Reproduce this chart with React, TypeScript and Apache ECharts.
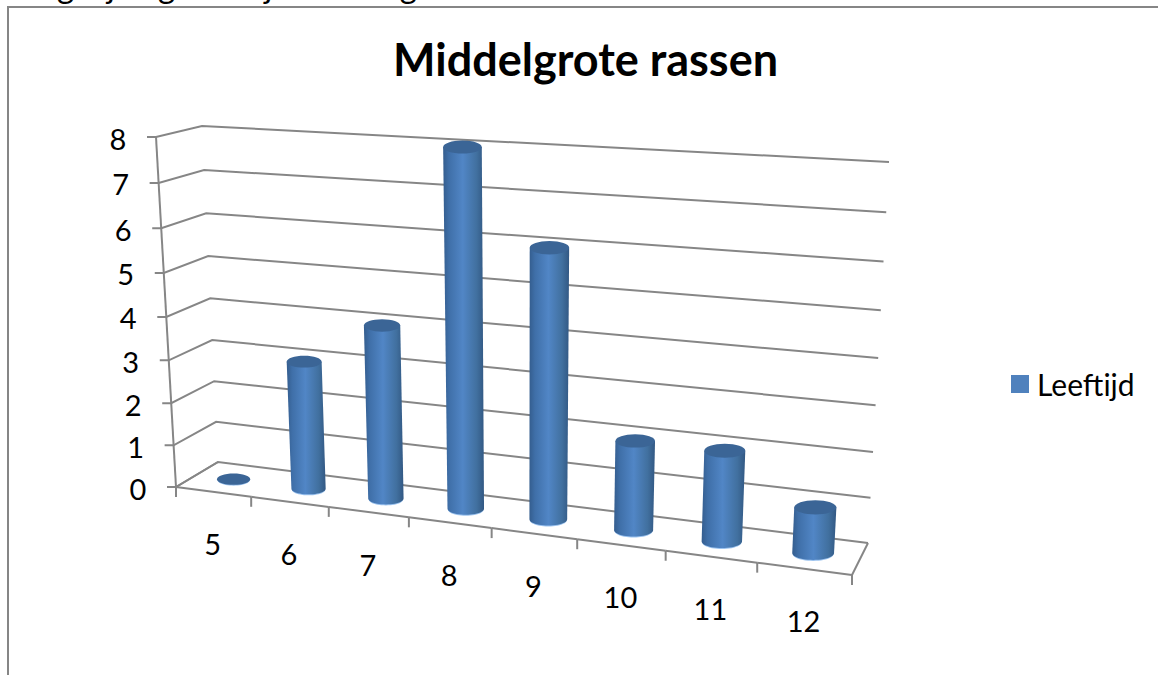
import React, { useEffect, useRef } from "react";
import * as echarts from "echarts";

const TITLE = "Middelgrote rassen";
const CUT_OFF_TEXT = "Vergelijking Leeftijd Middelgrote rassen";
const SERIES_NAME = "Leeftijd";
const categories = ["5", "6", "7", "8", "9", "10", "11", "12"];
const values = [0, 3, 4, 8, 6, 2, 2, 1];
const yTicks = [0, 1, 2, 3, 4, 5, 6, 7, 8];

const FONT = "Lato, 'Open Sans', sans-serif";
const GRID = { left: 176, top: 137, width: 676, height: 350 };
const LINE = "#868686";

type Pt = [number, number];
// Projective map of the unit square: corners p00 (u0,v0), p10 (u1,v0), p11 (u1,v1), p01 (u0,v1)
function homography(p00: Pt, p10: Pt, p11: Pt, p01: Pt) {
  const dx1 = p10[0] - p11[0], dx2 = p01[0] - p11[0], sx = p00[0] - p10[0] + p11[0] - p01[0];
  const dy1 = p10[1] - p11[1], dy2 = p01[1] - p11[1], sy = p00[1] - p10[1] + p11[1] - p01[1];
  const det = dx1 * dy2 - dx2 * dy1;
  const g = (sx * dy2 - dx2 * sy) / det;
  const h = (dx1 * sy - sx * dy1) / det;
  const a = p10[0] - p00[0] + g * p10[0], b = p01[0] - p00[0] + h * p01[0], c = p00[0];
  const d = p10[1] - p00[1] + g * p10[1], e = p01[1] - p00[1] + h * p01[1], f = p00[1];
  return (u: number, v: number): Pt => {
    const w = g * u + h * v + 1;
    return [(a * u + b * v + c) / w, (d * u + e * v + f) / w];
  };
}
const front = homography([176, 487], [852, 575], [874, 178], [156, 137]);
const back = homography([218, 462], [868, 543], [889, 162], [202, 126]);
const plane = (u: number, v: number, depth: number): Pt => {
  const b = back(u, v), f = front(u, v);
  return [b[0] + (f[0] - b[0]) * depth, b[1] + (f[1] - b[1]) * depth];
};

const toUnit = (params: any, p: number[]): Pt => {
  const c = params.coordSys;
  return [(p[0] - c.x) / c.width, (c.y + c.height - p[1]) / c.height];
};

const lineEl = (a: Pt, b: Pt, width = 2) => ({
  type: "line",
  shape: { x1: a[0], y1: a[1], x2: b[0], y2: b[1] },
  style: { stroke: LINE, lineWidth: width },
});

const textEl = (text: string, p: Pt) => ({
  type: "text",
  style: { text, x: p[0], y: p[1], fill: "#000", font: `29px ${FONT}`, align: "center", verticalAlign: "middle" },
});

function renderWall(params: any, api: any) {
  const [, v] = toUnit(params, api.coord([0, api.value(0)]));
  const f = front(0, v), bl = back(0, v), br = back(1, v);
  const children: any[] = [
    { type: "polyline", shape: { points: [[f[0] - 9, f[1]], f, bl, br] }, style: { stroke: LINE, lineWidth: 2, fill: "none" } },
    textEl(String(api.value(0)), [f[0] - 38, f[1] + 1]),
  ];
  if (v > 0) {
    const prev = toUnit(params, api.coord([0, api.value(0) - 1]))[1];
    children.push(lineEl(front(0, prev), f));
  }
  return { type: "group", children };
}

function renderFloor(params: any, api: any) {
  const idx = api.value(0);
  const band = api.size([1, 0])[0];
  const [u] = toUnit(params, api.coord([idx, 0]));
  const halfBand = band / params.coordSys.width / 2;
  const right = front(u + halfBand, 0);
  const left = front(u - halfBand, 0);
  const mid = front(u, 0);
  const children: any[] = [
    lineEl(left, right),
    lineEl(right, [right[0], right[1] + 10]),
    textEl(categories[idx], [(left[0] + right[0]) / 2 - 1, mid[1] + 52]),
  ];
  if (idx === 0) {
    children.push(lineEl(left, [left[0], left[1] + 10]));
    children.push(lineEl(front(0, 0), back(0, 0)));
    children.push(lineEl(front(1, 0), back(1, 0)));
  }
  return { type: "group", children };
}

const BODY = new echarts.graphic.LinearGradient(0, 0, 1, 0, [
  { offset: 0, color: "#345d8e" },
  { offset: 0.14, color: "#3f6fa8" },
  { offset: 0.48, color: "#5186c6" },
  { offset: 0.82, color: "#41709f" },
  { offset: 1, color: "#325883" },
]);

function halfEllipse(cx: number, cy: number, rx: number, ry: number): Pt[] {
  const pts: Pt[] = [];
  for (let i = 0; i <= 24; i++) {
    const a = (i / 24) * Math.PI;
    pts.push([cx + rx * Math.cos(a), cy + ry * Math.sin(a)]);
  }
  return pts;
}

function renderBar(params: any, api: any) {
  const band = api.size([1, 0])[0] / params.coordSys.width;
  const [u, v] = toUnit(params, api.coord([api.value(0), api.value(1)]));
  const base = plane(u, 0, 0.5);
  const top = plane(u, v, 0.5);
  const slot = (vv: number) => plane(u + band / 2, vv, 0.5)[0] - plane(u - band / 2, vv, 0.5)[0];
  const rb = slot(0) * 0.225;
  const rt = slot(v) * 0.225;
  const ryb = rb * 0.33;
  const ryt = rt * 0.34;
  const bottom = halfEllipse(base[0], base[1], rb, ryb);
  const rim = halfEllipse(base[0], base[1] + 1, rb - 0.5, ryb);
  const body: Pt[] = [[top[0] + rt, top[1]], ...bottom, [top[0] - rt, top[1]]];
  const children: any[] = [
    { type: "polygon", shape: { points: rim }, style: { fill: "#9cc3ef" } },
  ];
  if (v > 0) children.push({ type: "polygon", shape: { points: body }, style: { fill: BODY } });
  children.push({
    type: "ellipse",
    shape: { cx: top[0], cy: top[1], rx: rt, ry: ryt },
    style: { fill: "#3b6596" },
  });
  return { type: "group", children };
}

export default function App() {
  const ref = useRef<HTMLDivElement>(null);
  useEffect(() => {
    const chart = echarts.init(ref.current!, undefined, { renderer: "svg" });
    chart.setOption({
      animation: false,
      backgroundColor: "#fff",
      title: {
        text: TITLE,
        left: 393,
        top: 36,
        padding: 0,
        textStyle: { fontFamily: FONT, fontSize: 45, fontWeight: "bold", color: "#000" },
      },
      legend: {
        data: [{ name: SERIES_NAME, icon: "rect" }],
        left: 1011,
        top: 369,
        padding: 0,
        itemWidth: 18,
        itemHeight: 18,
        itemGap: 0,
        textStyle: { fontFamily: FONT, fontSize: 30, color: "#000", padding: [0, 0, 0, 3] },
      },
      grid: GRID,
      xAxis: { type: "category", data: categories, show: false },
      yAxis: { type: "value", min: 0, max: 8, interval: 1, show: false },
      graphic: [
        {
          type: "text",
          style: { text: CUT_OFF_TEXT, x: 8, y: 1, fill: "#000", font: `33px ${FONT}`, verticalAlign: "bottom" },
        },
        { type: "line", shape: { x1: 8, y1: 7, x2: 1158, y2: 7 }, style: { stroke: LINE, lineWidth: 2 } },
        { type: "line", shape: { x1: 8, y1: 6, x2: 8, y2: 675 }, style: { stroke: LINE, lineWidth: 2 } },
      ],
      series: [
        { type: "custom", name: "wall", coordinateSystem: "cartesian2d", clip: false, silent: true, encode: { y: 0 }, data: yTicks.map((v) => [v]), renderItem: renderWall },
        { type: "custom", name: "floor", coordinateSystem: "cartesian2d", clip: false, silent: true, data: categories.map((_, i) => [i]), renderItem: renderFloor },
        {
          type: "custom",
          name: SERIES_NAME,
          coordinateSystem: "cartesian2d",
          clip: false,
          itemStyle: { color: "#4f81bd" },
          encode: { x: 0, y: 1 },
          data: values.map((v, i) => [i, v]),
          renderItem: renderBar,
        },
      ],
    });
    return () => chart.dispose();
  }, []);
  return <div ref={ref} style={{ position: "fixed", left: 0, top: 0, width: 1158, height: 675, background: "#fff" }} />;
}
